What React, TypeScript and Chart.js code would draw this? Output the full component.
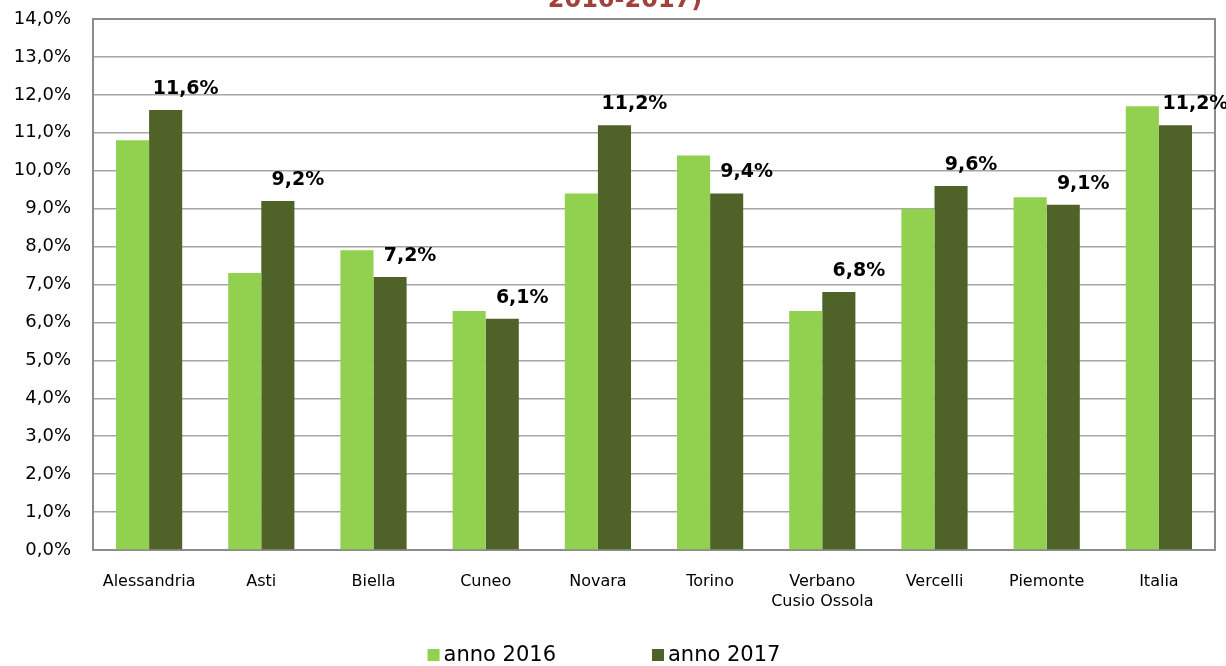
import React, { useEffect, useRef } from "react";
import { Chart, registerables } from "chart.js";

Chart.register(...registerables);

const categories: (string | string[])[] = [
  "Alessandria",
  "Asti",
  "Biella",
  "Cuneo",
  "Novara",
  "Torino",
  ["Verbano", "Cusio Ossola"],
  "Vercelli",
  "Piemonte",
  "Italia",
];
const values2016 = [10.8, 7.3, 7.9, 6.3, 9.4, 10.4, 6.3, 9.0, 9.3, 11.7];
const values2017 = [11.6, 9.2, 7.2, 6.1, 11.2, 9.4, 6.8, 9.6, 9.1, 11.2];
const seriesNames = ["anno 2016", "anno 2017"];
const titleTail = "2016-2017)";

const FONT = "'DejaVu Sans', Verdana, sans-serif";
const fmt = (v: number) => v.toFixed(1).replace(".", ",") + "%";

const decorPlugin = {
  id: "decor",
  beforeDatasetsDraw(chart: any) {
    const { ctx, chartArea } = chart;
    ctx.save();
    ctx.strokeStyle = "#8c8c8c";
    ctx.lineWidth = 2;
    ctx.strokeRect(
      chartArea.left,
      chartArea.top,
      chartArea.right - chartArea.left,
      chartArea.bottom - chartArea.top
    );
    ctx.restore();
  },
  afterDraw(chart: any) {
    const { ctx, width } = chart;
    ctx.save();
    // title (only its last line is visible)
    ctx.fillStyle = "#A0413C";
    ctx.font = `bold 24px ${FONT}`;
    ctx.textAlign = "center";
    ctx.textBaseline = "alphabetic";
    ctx.fillText(titleTail, 625, 7);

    // data labels for the second series
    const meta = chart.getDatasetMeta(1);
    ctx.fillStyle = "#000";
    ctx.font = `bold 19px ${FONT}`;
    ctx.textBaseline = "middle";
    meta.data.forEach((bar: any, i: number) => {
      const v = chart.data.datasets[1].data[i];
      ctx.fillText(fmt(v), bar.x + 20, bar.y - 21);
    });

    // legend
    ctx.font = `21px ${FONT}`;
    ctx.textAlign = "left";
    const box = 12;
    const gap = 4;
    const spacing = 96;
    const items = chart.data.datasets.map((d: any) => ({
      label: d.label,
      color: d.backgroundColor,
      w: box + gap + ctx.measureText(d.label).width,
    }));
    const total =
      items.reduce((s: number, it: any) => s + it.w, 0) + spacing * (items.length - 1);
    let x = width / 2 - 9 - total / 2;
    const y = 655;
    items.forEach((it: any) => {
      ctx.fillStyle = it.color;
      ctx.fillRect(x, y - box / 2, box, box);
      ctx.fillStyle = "#000";
      ctx.fillText(it.label, x + box + gap, y + 1);
      x += it.w + spacing;
    });
    ctx.restore();
  },
};

export default function App() {
  const ref = useRef<HTMLCanvasElement | null>(null);
  useEffect(() => {
    if (!ref.current) return;
    const chart = new Chart(ref.current, {
      type: "bar",
      data: {
        labels: categories,
        datasets: [
          {
            label: seriesNames[0],
            data: values2016,
            backgroundColor: "#92D050",
            categoryPercentage: 0.59,
            barPercentage: 1,
          },
          {
            label: seriesNames[1],
            data: values2017,
            backgroundColor: "#4F6228",
            categoryPercentage: 0.59,
            barPercentage: 1,
          },
        ],
      },
      options: {
        animation: false,
        responsive: true,
        maintainAspectRatio: false,
        layout: { padding: { top: 19, right: 11, left: 0, bottom: 0 } },
        plugins: {
          legend: { display: false },
          title: { display: false },
          tooltip: { enabled: false },
        },
        scales: {
          x: {
            grid: { display: false, drawTicks: false },
            border: { display: false },
            ticks: {
              color: "#000",
              font: { family: FONT, size: 16, lineHeight: 1.25 },
              padding: 22,
              maxRotation: 0,
              autoSkip: false,
            },
            afterFit: (s: any) => {
              s.height = 116;
            },
          },
          y: {
            min: 0,
            max: 14,
            grid: {
              color: "#a6a6a6",
              lineWidth: 1.5,
              drawTicks: true,
              tickLength: 22,
              tickColor: "rgba(0,0,0,0)",
            },
            border: { display: false },
            ticks: {
              stepSize: 1,
              color: "#000",
              font: { family: FONT, size: 18 },
              padding: 0,
              callback: (v: any) => fmt(Number(v)),
            },
            afterFit: (s: any) => {
              s.width = 93;
            },
          },
        },
      },
      plugins: [decorPlugin],
    });
    return () => chart.destroy();
  }, []);
  return (
    <div style={{ position: "fixed", left: 0, top: 0, width: 1226, height: 666, background: "#fff" }}>
      <canvas ref={ref} />
    </div>
  );
}
